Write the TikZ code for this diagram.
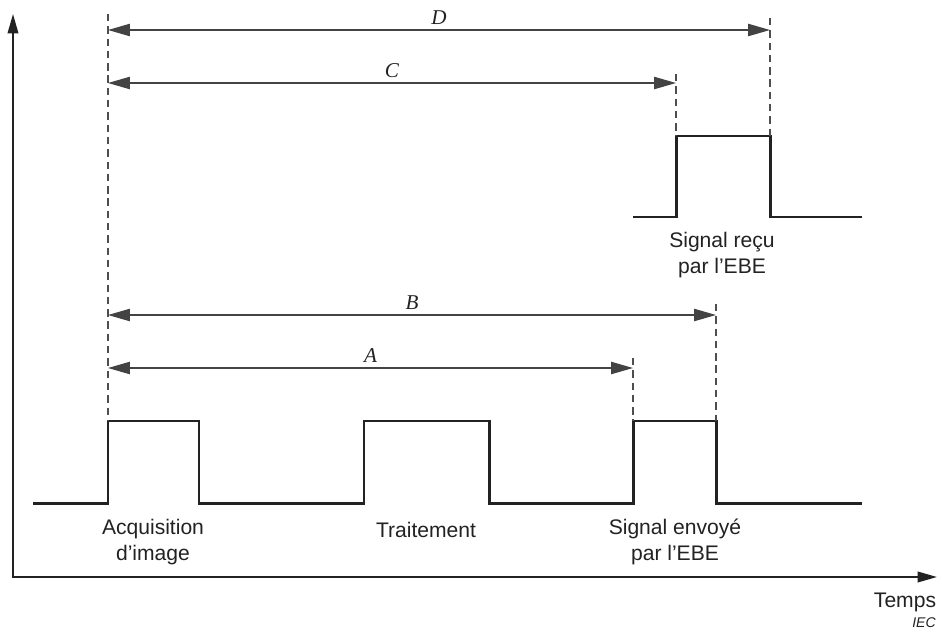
\documentclass[tikz,border=0pt]{standalone}
\usepackage{fontspec}
\setmainfont{Liberation Sans}
\newfontfamily\dimfont{Liberation Serif}
\usetikzlibrary{arrows.meta}
\definecolor{ink}{RGB}{34,34,34}

\begin{document}
\begin{tikzpicture}[
  x=0.02cm, y=-0.02cm,
  every node/.style={font=\fontsize{12}{14.6}\selectfont, inner sep=0pt,
    align=center, text=ink},
  sig/.style={line width=1.7pt, ink, line join=miter},
  axis/.style={line width=1.1pt, ink,
    {Triangle[length=11pt,width=6pt]}-{Triangle[length=11pt,width=6pt]}},
  dim/.style={line width=0.8pt, ink!85,
    {Triangle[length=12.5pt,width=7pt]}-{Triangle[length=12.5pt,width=7pt]}},
  guide/.style={line width=0.7pt, ink!80, dash pattern=on 4.2pt off 2.8pt},
  dimlbl/.style={font=\dimfont\itshape\fontsize{12}{14}\selectfont}
]
\useasboundingbox (0,0) rectangle (943,632);

% axes
\coordinate (o) at (13,577);
\coordinate (ytip) at (13,14);
\coordinate (xtip) at (937,577);
\draw[axis] (ytip) -- (o) -- (xtip);
\node (temps) at (905,602) {Temps};
\node[font=\fontsize{8}{9}\selectfont\itshape] (iec) at (924,623) {IEC};

% signals
\draw[sig] (33,503) -- (108,503) -- (108,421) -- (199,421) -- (199,503)
  -- (364,503) -- (364,421) -- (489,421) -- (489,503)
  -- (633,503) -- (633,421) -- (716,421) -- (716,503) -- (862,503);
\draw[sig] (633,217) -- (676,217) -- (676,136) -- (770,136) -- (770,217) -- (862,217);

% guides
\draw[guide] (108,14) -- (108,421);
\draw[guide] (633,358) -- (633,421);
\draw[guide] (716,304) -- (716,421);
\draw[guide] (676,74) -- (676,136);
\draw[guide] (770,18) -- (770,136);

% dimensions
\coordinate (d0) at (108,30);  \coordinate (d1) at (770,30);
\coordinate (c0) at (108,83);  \coordinate (c1) at (676,83);
\coordinate (b0) at (108,315); \coordinate (b1) at (716,315);
\coordinate (a0) at (108,368); \coordinate (a1) at (633,368);
\draw[dim] (d0) -- node[dimlbl, above=2.5pt] (lblD) {D} (d1);
\draw[dim] (c0) -- node[dimlbl, above=2.5pt] (lblC) {C} (c1);
\draw[dim] (b0) -- node[dimlbl, above=2.5pt] (lblB) {B} (b1);
\draw[dim] (a0) -- node[dimlbl, above=2.5pt] (lblA) {A} (a1);

% labels
\node (acq) at (153,542) {Acquisition\\d’image};
\node (trt) at (426,530) {Traitement};
\node (env) at (675,542) {Signal envoyé\\par l’EBE};
\node (rec) at (722,255) {Signal reçu\\par l’EBE};
\end{tikzpicture}
\end{document}
